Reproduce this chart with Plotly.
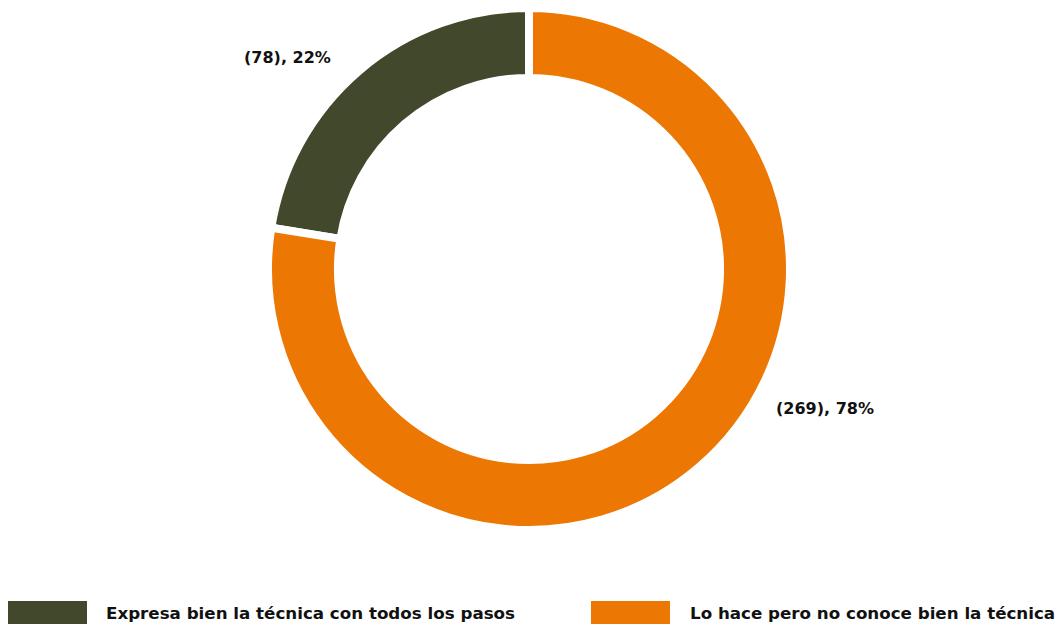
import plotly.graph_objects as go

# Survey result: how participants describe the technique
categories = ["Expresa bien la técnica con todos los pasos",
              "Lo hace pero no conoce bien la técnica"]
counts = [78, 269]
colors = ["#41482B", "#EC7703"]

total = sum(counts)
pct_labels = [f"({c}), {round(100 * c / total)}%" for c in counts]

W, H = 1061, 626
FONT = "DejaVu Sans"

# First slice ends at 12 o'clock, ring continues clockwise from there
start_angle = -360 * counts[0] / total

fig = go.Figure(go.Pie(
    labels=categories,
    values=counts,
    hole=0.732,
    sort=False,
    direction="clockwise",
    rotation=start_angle,
    marker=dict(colors=colors, line=dict(color="white", width=8)),
    textinfo="none",
    hoverinfo="label+value+percent",
    domain=dict(x=[268 / W, 790 / W], y=[96 / H, 618 / H]),
    showlegend=False,
))

# Value labels outside the ring
label_pos = [(287, 58), (825, 408)]
annotations = []
for txt, (px, py) in zip(pct_labels, label_pos):
    annotations.append(dict(
        x=px / W, y=1 - py / H, xref="paper", yref="paper",
        text=txt, showarrow=False, xanchor="center", yanchor="middle",
        font=dict(family=FONT, size=16, color="#111111", weight="bold"),
    ))

# Legend drawn as wide swatches with captions
shapes = []
legend_items = [(8, 104), (591, 688)]
for (sx, tx), name, col in zip(legend_items, categories, colors):
    shapes.append(dict(
        type="rect", xref="paper", yref="paper",
        x0=sx / W, x1=(sx + 79) / W, y0=1 - 624 / H, y1=1 - 601 / H,
        fillcolor=col, line=dict(width=0),
    ))
    annotations.append(dict(
        x=tx / W, y=1 - 613 / H, xref="paper", yref="paper",
        text=name, showarrow=False, xanchor="left", yanchor="middle",
        font=dict(family=FONT, size=16.7, color="#111111", weight="bold"),
    ))

fig.update_layout(
    width=W, height=H,
    margin=dict(l=0, r=0, t=0, b=0),
    paper_bgcolor="white", plot_bgcolor="white",
    annotations=annotations, shapes=shapes,
)

fig.write_html("out.html")
